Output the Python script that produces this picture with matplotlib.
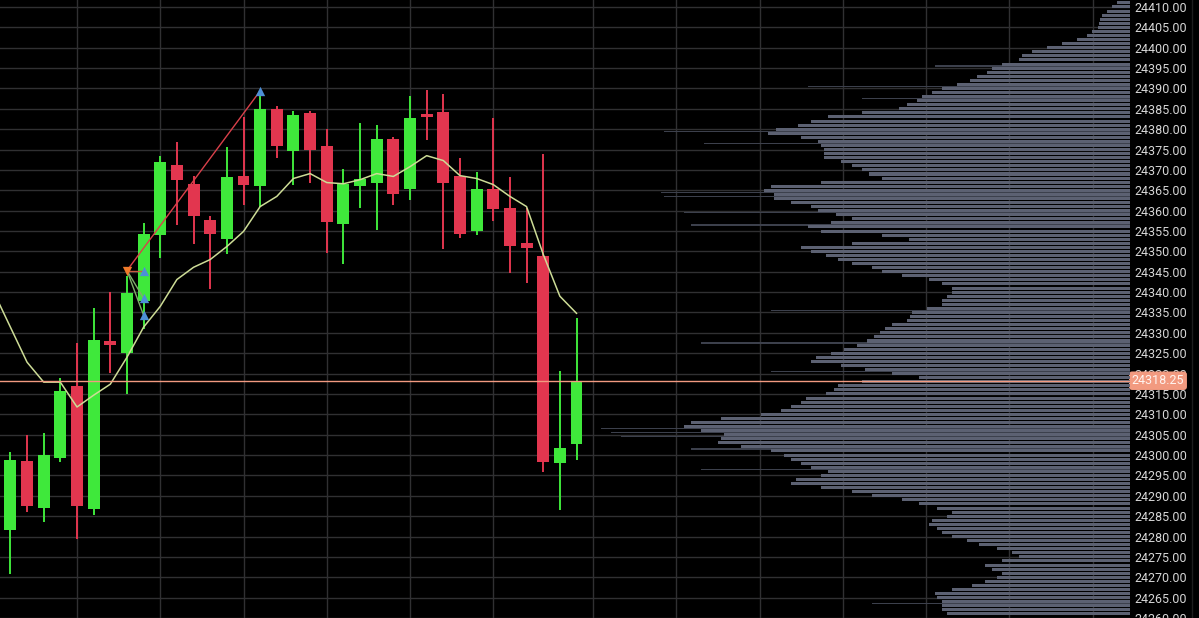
import matplotlib
matplotlib.use("Agg")
import matplotlib.pyplot as plt
import matplotlib.transforms as mtransforms
import numpy as np

# ---------------- data ----------------
opens  = [24281.7, 24298.6, 24287.0, 24299.4, 24316.9, 24286.8, 24328.0, 24325.0, 24337.8, 24354.1,
          24371.1, 24366.6, 24357.6, 24353.1, 24368.4, 24366.0, 24385.0, 24374.7, 24384.0, 24375.8,
          24356.8, 24366.0, 24366.7, 24377.6, 24365.4, 24383.7, 24384.1, 24368.4, 24355.0, 24365.4,
          24360.6, 24352.1, 24348.8, 24298.1, 24302.7]
highs  = [24300.8, 24305.0, 24305.4, 24318.9, 24327.6, 24336.0, 24340.0, 24343.9, 24356.9, 24373.5,
          24376.9, 24368.4, 24358.8, 24375.6, 24383.1, 24389.2, 24385.8, 24384.4, 24384.5, 24380.1,
          24370.3, 24381.5, 24381.1, 24378.2, 24388.2, 24389.7, 24388.7, 24372.9, 24369.4, 24382.7,
          24368.3, 24360.7, 24374.0, 24320.7, 24333.6]
lows   = [24270.9, 24286.1, 24283.5, 24298.2, 24279.5, 24285.2, 24320.1, 24315.0, 24330.9, 24348.3,
          24356.6, 24351.7, 24340.7, 24349.3, 24361.3, 24360.9, 24372.9, 24366.2, 24366.8, 24349.7,
          24347.0, 24360.7, 24355.2, 24361.5, 24362.5, 24377.4, 24350.5, 24353.2, 24354.0, 24357.4,
          24344.8, 24342.3, 24295.9, 24286.6, 24298.9]
closes = [24298.9, 24287.6, 24299.9, 24315.8, 24287.4, 24328.3, 24327.0, 24339.7, 24354.3, 24371.9,
          24367.5, 24358.6, 24354.2, 24368.3, 24366.4, 24385.0, 24375.8, 24383.5, 24375.0, 24357.2,
          24366.6, 24367.8, 24377.7, 24364.2, 24382.8, 24383.1, 24366.8, 24354.2, 24365.2, 24360.3,
          24351.3, 24350.8, 24298.4, 24301.7, 24318.25]

# moving average, starting at candle index -1
ma_values = [24340.0, 24331.4, 24322.8, 24317.9, 24317.9, 24311.8, 24314.7, 24317.4, 24324.0, 24331.4,
             24336.5, 24343.1, 24346.1, 24348.0, 24351.2, 24354.9, 24361.0, 24363.5, 24367.9, 24369.1,
             24366.9, 24366.6, 24367.6, 24369.1, 24368.4, 24370.8, 24373.5, 24372.3, 24368.6, 24367.9,
             24366.4, 24363.5, 24361.0, 24349.3, 24339.0, 24334.8]

last_price = 24318.25

# signal markers
entry_idx, entry_price = 7, 24345.3
target_idx = [8, 8, 8, 15]
target_price = [24345.3, 24338.5, 24334.3, 24389.4]

# volume profile (1-point rows, from top price downward)
vp_top = 24412
vp_volume = [8, 13, 18, 23, 28, 30, 31, 32, 38, 43, 53, 68, 83, 98, 108, 111, 128, 138, 143, 153,
             160, 173, 188, 198, 208, 213, 223, 231, 268, 301, 318, 331, 353, 361, 328, 311, 308, 305, 305, 305,
             288, 278, 268, 261, 248, 308, 358, 365, 355, 355, 338, 318, 311, 293, 278, 298, 321, 308, 248, 221,
             278, 328, 318, 303, 291, 278, 258, 248, 228, 201, 188, 178, 178, 183, 188, 188, 203, 218, 220, 223,
             238, 245, 250, 256, 263, 273, 285, 298, 313, 318, 288, 265, 238, 211, 268, 291, 295, 303, 323, 328,
             338, 348, 368, 408, 438, 445, 428, 405, 408, 411, 388, 358, 345, 338, 328, 318, 301, 308, 333, 338,
             308, 278, 258, 228, 211, 193, 178, 183, 198, 201, 193, 188, 178, 163, 151, 133, 118, 111, 128, 145,
             138, 128, 133, 145, 158, 178, 195, 193, 188, 188, 188, 183]
spike_prices = [24395.5, 24390.5, 24387.5, 24379.5, 24376.5, 24364.5, 24363.5, 24359.5, 24356.5, 24335.5,
                24327.5, 24320.5, 24306.5, 24305.5, 24304.5, 24301.5, 24296.5, 24263.5]
spike_volume = [195, 321, 268, 465, 425, 468, 465, 445, 438, 358,
                428, 358, 528, 518, 508, 438, 428, 258]

ytick_values = list(range(24260, 24415, 5))
vgrid_idx = [4, 9, 14, 19, 24, 29, 35, 40, 45, 50, 55, 60, 65]

# ---------------- style ----------------
GREEN = "#3fe83b"
RED = "#e2364f"
BG = "#000000"
GRID = "#303032"
MA_COLOR = "#cddc96"
PRICE_COLOR = "#f29a80"
VP_COLOR = "#5c6172"

W, H = 1199, 618
fig = plt.figure(figsize=(W / 100, H / 100), dpi=100, facecolor=BG)
plot_right = 1130 / W
ax = fig.add_axes([0, 0, plot_right, 1])
ax.set_facecolor(BG)

n = len(opens)
x = np.arange(n)

# grid
for yv in ytick_values:
    ax.axhline(yv, color=GRID, lw=1.0, zorder=0)
for gx in vgrid_idx:
    ax.axvline(gx, color=GRID, lw=1.0, zorder=0)

# candles
colors = [GREEN if c >= o else RED for o, c in zip(opens, closes)]
ax.vlines(x, lows, highs, colors=colors, lw=1.4, zorder=2)
bottoms = [min(o, c) for o, c in zip(opens, closes)]
heights = [max(abs(c - o), 0.7) for o, c in zip(opens, closes)]
ax.bar(x, heights, bottom=bottoms, width=0.72, color=colors, edgecolor="none", zorder=3)

# moving average
ma_x = np.arange(-1, -1 + len(ma_values))
ax.plot(ma_x, ma_values, color=MA_COLOR, lw=1.1, zorder=4)

# signal lines & markers
ax.plot([entry_idx, target_idx[3]], [entry_price, target_price[3]], color="#d9404a", lw=1.0, zorder=5)
ax.plot([entry_idx, target_idx[0]], [entry_price, target_price[0]], color="#c85a40", lw=1.0, zorder=5)
for ti, tp in zip(target_idx[1:3], target_price[1:3]):
    ax.plot([entry_idx, ti], [entry_price, tp], color="#7fae6a", lw=1.0, zorder=5)
ax.scatter([entry_idx], [entry_price], marker="v", s=45, color="#f07a2a", zorder=6, linewidths=0)
ax.scatter(target_idx, target_price, marker="^", s=45, color="#4d8fd6", zorder=6, linewidths=0)

# axis limits (index i -> pixel 10.4 + 16.65 i)
ax.set_xlim(-0.625, (1130 - 10.4) / 16.65)
ax.set_ylim(24410 - 611 / 4.083, 24410 + 7 / 4.083)

# y labels on right
ax.yaxis.tick_right()
ax.set_yticks(ytick_values)
ax.set_yticklabels([f"{v:.2f}" for v in ytick_values])
ax.tick_params(axis="y", length=0, pad=3, labelsize=9, labelcolor="#d6d6d6")
for lbl in ax.get_yticklabels():
    lbl.set_fontfamily("Roboto")
ax.set_xticks([])
for s in ax.spines.values():
    s.set_visible(False)

# volume profile on twin axis
ax2 = ax.twiny()
ax2.set_xlim(1128, 0)
ax2.patch.set_visible(False)
ax2.set_xticks([])
for s in ax2.spines.values():
    s.set_visible(False)
vp_prices = [vp_top - k for k in range(len(vp_volume))]
ax2.barh(spike_prices, spike_volume, height=0.3, left=0, color="#3c404c", edgecolor="none", zorder=1)
ax2.barh(vp_prices, vp_volume, height=0.74, left=0, color=VP_COLOR, edgecolor="none", zorder=2)

# last price line
ax2.axhline(last_price, color=PRICE_COLOR, lw=1.0, zorder=5)
trans = mtransforms.blended_transform_factory(ax.transAxes, ax.transData)
ax.text(1.0015, last_price, f"{last_price:.2f}", transform=trans, ha="left", va="center",
        fontsize=9, family="Roboto", color="#fff4f0", zorder=10, clip_on=False,
        bbox=dict(boxstyle="round,pad=0.22,rounding_size=0.25", fc=PRICE_COLOR, ec="none"))

# separator line at right
fig.add_artist(plt.Line2D([1192 / W, 1192 / W], [0, 1], color="#1e1e1e", lw=1.0))

fig.savefig("out.png", dpi=100, facecolor=BG)
